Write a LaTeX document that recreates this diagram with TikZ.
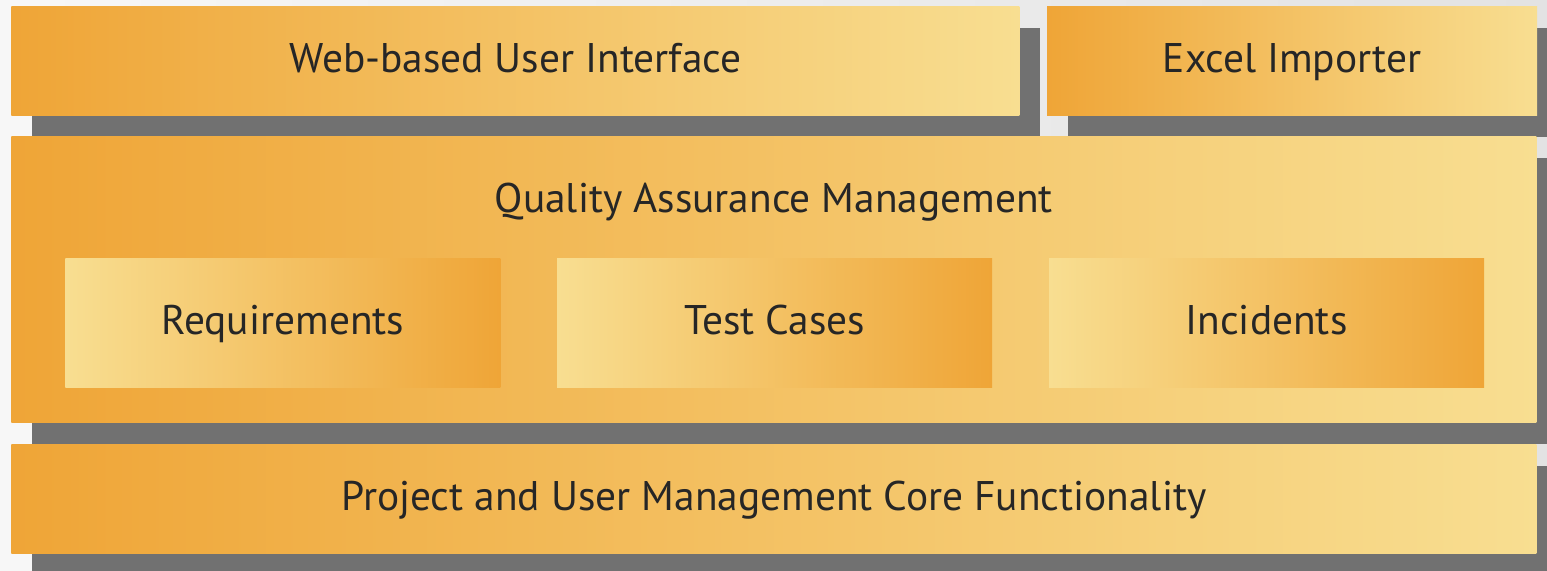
\documentclass[tikz,border=0pt]{standalone}
\usepackage{fontspec}
\setmainfont{PT Sans}
\usepackage{tikz}
\usetikzlibrary{positioning,calc,shadows}
\definecolor{qaorange}{HTML}{EFA537}
\definecolor{qayellow}{HTML}{F8DE91}
\definecolor{qashadow}{HTML}{717171}
\definecolor{qatext}{HTML}{262626}

\tikzset{
  label text/.style={text=qatext, font=\fontsize{20.7}{25}\selectfont,
    text height=16pt, text depth=4pt},
  layer/.style={rectangle, inner sep=0pt, anchor=north west,
    left color=qaorange, right color=qayellow, label text,
    drop shadow={shadow xshift=10.5pt, shadow yshift=-11pt, fill=qashadow, opacity=1}},
  module/.style={rectangle, inner sep=0pt, anchor=north west,
    left color=qayellow, right color=qaorange, label text,
    minimum width=217.5pt, minimum height=64.5pt}
}

\begin{document}
\begin{tikzpicture}[x=0.5pt,y=-0.5pt, node distance=13.5pt]
\useasboundingbox (0,0) rectangle (1547,570);
\shade[left color=black!3, right color=black!11] (0,0) rectangle (1547,570);
\node[layer, minimum width=504pt, minimum height=54.5pt] (web) at (11,6) {Web-based User Interface};
\node[layer, minimum width=245pt, minimum height=54.5pt, right=13.5pt of web.north east, anchor=north west] (excel) {Excel Importer};
\node[layer, minimum width=762.5pt, minimum height=143pt, below=10pt of web.south west, anchor=north west] (qa) {};
\node[layer, minimum width=762.5pt, minimum height=54.5pt, below=10.5pt of qa.south west, anchor=north west] (core) {Project and User Management Core Functionality};
\node[label text] (qatitle) at ($(qa.north)+(0,65)$) {Quality Assurance Management};
\node[module] (req) at ($(qa.north west)+(54,122)$) {Requirements};
\node[module, right=28pt of req.north east, anchor=north west] (tests) {Test Cases};
\node[module, right=28pt of tests.north east, anchor=north west] (incidents) {Incidents};
\end{tikzpicture}
\end{document}
